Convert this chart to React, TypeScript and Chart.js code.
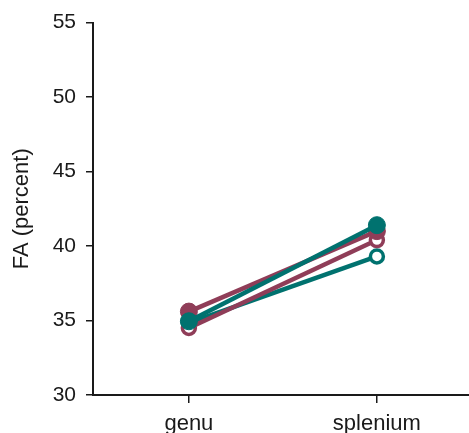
import React, { useEffect, useRef } from "react";
import { Chart, registerables } from "chart.js";

Chart.register(...registerables);

const categories = ["genu", "splenium"];
const tealFilled = [34.95, 41.4];
const maroonFilled = [35.6, 41.0];
const maroonOpen = [34.5, 40.4];
const tealOpen = [34.85, 39.3];
const yTicks = [30, 35, 40, 45, 50, 55];

const TEAL = "#00726f";
const MAROON = "#8f3d58";
const FONT = "'Liberation Sans', Arial, Helvetica, sans-serif";
const INK = "#1a1a1a";

export default function App() {
  const ref = useRef<HTMLCanvasElement | null>(null);
  useEffect(() => {
    document.body.style.margin = "0";
    const mk = (label: string, data: number[], color: string, filled: boolean) => ({
      label,
      data: data.map((v, i) => ({ x: i, y: v })),
      borderColor: color,
      backgroundColor: filled ? color : "#ffffff",
      pointBackgroundColor: filled ? color : "#ffffff",
      pointBorderColor: color,
      pointBorderWidth: filled ? 1 : 3.5,
      pointRadius: filled ? 8.5 : 6.5,
      borderWidth: 4.5,
      clip: false as any,
    });
    const chart = new Chart(ref.current!, {
      type: "line",
      data: {
        datasets: [
          mk("teal filled", tealFilled, TEAL, true),
          mk("maroon filled", maroonFilled, MAROON, true),
          mk("maroon open", maroonOpen, MAROON, false),
          mk("teal open", tealOpen, TEAL, false),
        ],
      },
      options: {
        animation: false,
        responsive: false,
        layout: { autoPadding: false, padding: { top: 18, right: 0, left: 0, bottom: 0 } },
        plugins: { legend: { display: false }, tooltip: { enabled: false } },
        scales: {
          x: {
            type: "linear",
            min: -0.51,
            max: 1.49,
            afterBuildTicks: (s: any) => { s.ticks = categories.map((_, i) => ({ value: i })); },
            grid: { drawOnChartArea: false, drawTicks: true, tickLength: 8, color: INK, lineWidth: 1.5 },
            border: { display: true, color: INK, width: 2 },
            ticks: { color: INK, font: { family: FONT, size: 22 }, padding: 8, callback: (v: any) => categories[Math.round(Number(v))] ?? "" },
            afterFit: (s: any) => { s.height = 38; },
          },
          y: {
            min: 30,
            max: 55,
            afterBuildTicks: (s: any) => { s.ticks = yTicks.map((v) => ({ value: v })); },
            grid: { drawOnChartArea: false, drawTicks: true, tickLength: 7, color: INK, lineWidth: 1.5 },
            border: { display: true, color: INK, width: 2 },
            ticks: { color: INK, font: { family: FONT, size: 21 }, padding: 10 },
            title: { display: true, text: "FA (percent)", color: INK, font: { family: FONT, size: 22 }, padding: { top: 9, bottom: 0 } },
            afterFit: (s: any) => { s.width = 93; },
          },
        },
      },
    });
    return () => chart.destroy();
  }, []);
  return (
    <div style={{ position: "absolute", left: 0, top: 0, width: 469, height: 433, background: "#fff" }}>
      <canvas ref={ref} width={469} height={433} style={{ width: 469, height: 433, display: "block" }} />
    </div>
  );
}
